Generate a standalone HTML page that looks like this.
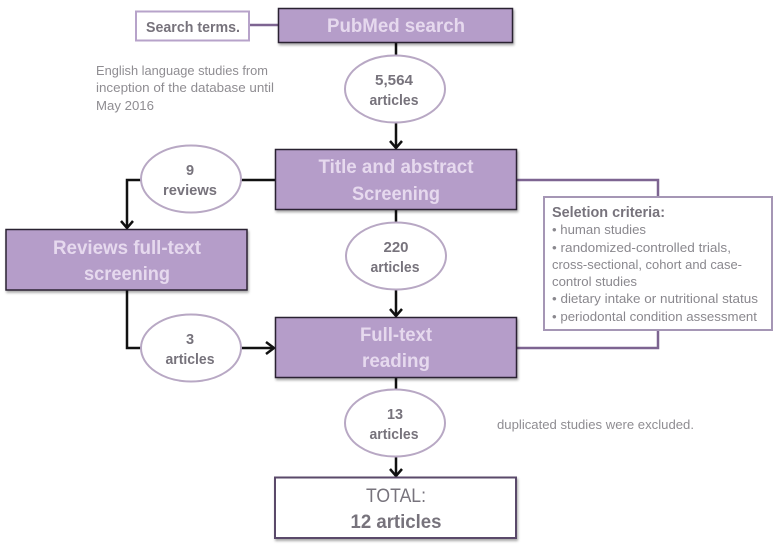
<!DOCTYPE html>
<html><head><meta charset="utf-8">
<style>
html,body{margin:0;padding:0;background:#fff}
svg{display:block}
text{font-family:"Liberation Sans",sans-serif}
.h{fill:#e6d9ee;font-weight:bold;font-size:19px;text-anchor:middle}
.e{fill:#77737c;font-weight:bold;font-size:14.5px;text-anchor:middle}
.n{fill:#8f8d92;font-size:12.5px}
.s{fill:#8a888e;font-size:12.5px}
</style></head>
<body>
<svg width="779" height="548" viewBox="0 0 779 548" xmlns="http://www.w3.org/2000/svg">
<defs>
<filter id="sh" x="-5%" y="-10%" width="110%" height="125%"><feDropShadow dx="1" dy="2" stdDeviation="1.2" flood-color="#000" flood-opacity=".35"/></filter>
</defs>

<!-- purple connectors -->
<path d="M249 25H278" fill="none" stroke="#7d6491" stroke-width="2.5"/>
<path d="M516 180H658V197M516 348H658V330" fill="none" stroke="#7d6491" stroke-width="2.5"/>

<!-- black connectors -->
<g fill="none" stroke="#111" stroke-width="2.5">
<path d="M396 42V56M396 123V148"/>
<path d="M390 141L396 148L402 141"/>
<path d="M396 209V222M396 290V316"/>
<path d="M390 309L396 316L402 309"/>
<path d="M396 377V390M396 457V476"/>
<path d="M390 469L396 476L402 469"/>
<path d="M275 180H241M141 180H127V228"/>
<path d="M121 221L127 228L133 221"/>
<path d="M127 290V348H141M241 348H274"/>
<path d="M266 342L274 348L266 354"/>
</g>

<!-- boxes -->
<g filter="url(#sh)">
<rect x="278.500" y="8.500" width="234" height="34" fill="#b59dc9" stroke="#2c2433" stroke-width="1.500"/>
<rect x="275.500" y="149.500" width="241" height="60" fill="#b59dc9" stroke="#2c2433" stroke-width="1.500"/>
<rect x="6" y="229.500" width="241" height="60.500" fill="#b59dc9" stroke="#2c2433" stroke-width="1.500"/>
<rect x="275.500" y="317.500" width="241" height="60" fill="#b59dc9" stroke="#2c2433" stroke-width="1.500"/>
<rect x="275" y="477.500" width="241" height="60.500" fill="#fff" stroke="#5a4a6a" stroke-width="2"/>
</g>
<rect x="136" y="11.500" width="113" height="29" fill="#fff" stroke="#b7a3ca" stroke-width="2"/>
<rect x="544" y="197" width="228" height="133" fill="#fff" stroke="#a596b5" stroke-width="2"/>

<!-- ellipses -->
<g fill="#fff" stroke="#b8a8c4" stroke-width="2">
<ellipse cx="395" cy="89" rx="50" ry="33.500"/>
<ellipse cx="191" cy="179" rx="50" ry="33.500"/>
<ellipse cx="191" cy="348" rx="50" ry="33.500"/>
<ellipse cx="396" cy="256" rx="50" ry="33.500"/>
<ellipse cx="395" cy="423" rx="50" ry="33.500"/>
</g>

<!-- box labels -->
<text class="h" x="396" y="32" textLength="138" lengthAdjust="spacingAndGlyphs">PubMed search</text>
<text class="h" x="396" y="173" textLength="155" lengthAdjust="spacingAndGlyphs">Title and abstract</text>
<text class="h" x="396" y="200" textLength="88" lengthAdjust="spacingAndGlyphs">Screening</text>
<text class="h" x="127" y="254" textLength="148" lengthAdjust="spacingAndGlyphs">Reviews full-text</text>
<text class="h" x="127" y="280" textLength="86" lengthAdjust="spacingAndGlyphs">screening</text>
<text class="h" x="396" y="341" textLength="72" lengthAdjust="spacingAndGlyphs">Full-text</text>
<text class="h" x="396" y="367" textLength="68" lengthAdjust="spacingAndGlyphs">reading</text>

<text x="396" y="502" text-anchor="middle" font-size="19" fill="#77737c" textLength="60" lengthAdjust="spacingAndGlyphs">TOTAL:</text>
<text x="396" y="528" text-anchor="middle" font-size="19" font-weight="bold" fill="#77737c" textLength="91" lengthAdjust="spacingAndGlyphs">12 articles</text>

<text x="193" y="32" text-anchor="middle" font-size="14.500" font-weight="bold" fill="#77737c" textLength="94" lengthAdjust="spacingAndGlyphs">Search terms.</text>

<!-- ellipse labels -->
<text class="e" x="394" y="85" textLength="38" lengthAdjust="spacingAndGlyphs">5,564</text>
<text class="e" x="394" y="105" textLength="49" lengthAdjust="spacingAndGlyphs">articles</text>
<text class="e" x="190" y="175">9</text>
<text class="e" x="190" y="195" textLength="54" lengthAdjust="spacingAndGlyphs">reviews</text>
<text class="e" x="190" y="344">3</text>
<text class="e" x="190" y="364" textLength="49" lengthAdjust="spacingAndGlyphs">articles</text>
<text class="e" x="396" y="252" textLength="25" lengthAdjust="spacingAndGlyphs">220</text>
<text class="e" x="395" y="272" textLength="49" lengthAdjust="spacingAndGlyphs">articles</text>
<text class="e" x="395" y="419" textLength="16" lengthAdjust="spacingAndGlyphs">13</text>
<text class="e" x="394" y="439" textLength="49" lengthAdjust="spacingAndGlyphs">articles</text>

<!-- notes -->
<text class="n" x="96" y="75" textLength="172" lengthAdjust="spacingAndGlyphs">English language studies from</text>
<text class="n" x="96" y="92" textLength="178" lengthAdjust="spacingAndGlyphs">inception of the database until</text>
<text class="n" x="96" y="110" textLength="58" lengthAdjust="spacingAndGlyphs">May 2016</text>
<text class="n" x="497" y="429" textLength="197" lengthAdjust="spacingAndGlyphs">duplicated studies were excluded.</text>

<!-- criteria -->
<text x="552" y="217" font-size="14.500" font-weight="bold" fill="#77737c" textLength="113" lengthAdjust="spacingAndGlyphs">Seletion criteria:</text>
<text class="s" x="552" y="234" textLength="94" lengthAdjust="spacingAndGlyphs">• human studies</text>
<text class="s" x="552" y="252" textLength="179" lengthAdjust="spacingAndGlyphs">• randomized-controlled trials,</text>
<text class="s" x="552" y="269" textLength="190" lengthAdjust="spacingAndGlyphs">cross-sectional, cohort and case-</text>
<text class="s" x="552" y="286" textLength="85" lengthAdjust="spacingAndGlyphs">control studies</text>
<text class="s" x="552" y="303" textLength="206" lengthAdjust="spacingAndGlyphs">• dietary intake or nutritional status</text>
<text class="s" x="552" y="321" textLength="205" lengthAdjust="spacingAndGlyphs">• periodontal condition assessment</text>
</svg>
</body></html>
